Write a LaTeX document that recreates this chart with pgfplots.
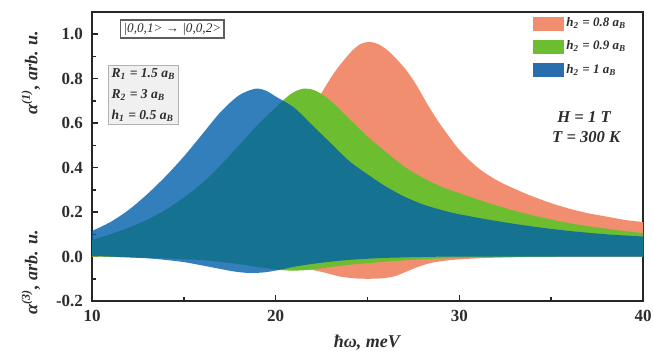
\documentclass[border=0pt]{standalone}
\usepackage{fontspec}
\setmainfont{Liberation Serif}
\usepackage{pgfplots}
\pgfplotsset{compat=1.18}
\usepgfplotslibrary{fillbetween}

\definecolor{salmonfill}{RGB}{242,142,112}
\definecolor{greenfill}{RGB}{108,190,48}
\definecolor{bluefill}{RGB}{0,95,170}
\definecolor{bluekey}{RGB}{40,110,175}
\definecolor{txt}{RGB}{45,45,45}
\definecolor{boxline}{RGB}{95,95,95}

\begin{document}
\begin{tikzpicture}
\begin{axis}[
  scale only axis, width=275.5pt, height=144.5pt,
  xmin=10, xmax=40, ymin=-0.2, ymax=1.1,
  xtick={10,20,30,40}, xticklabels={10,20,30,40},
  ytick={-0.2,0,0.2,0.4,0.6,0.8,1.0},
  yticklabels={-0.2,0.0,0.2,0.4,0.6,0.8,1.0},
  minor x tick num=1, minor y tick num=1,
  xtick pos=bottom, ytick pos=left, tick align=inside,
  major tick length=3pt, minor tick length=1.8pt,
  axis line style={line width=0.9pt, black!85},
  every tick/.style={line width=0.8pt, black!85},
  tick label style={font=\fontsize{8.5}{10}\selectfont\bfseries, text=txt},
  yticklabel style={xshift=-1pt},
  xticklabel style={yshift=-1pt},
  xlabel={\textbf{\textit{ħω, meV}}},
  every axis x label/.style={at={(axis description cs:0.5,-0.145)}, anchor=center,
    font=\fontsize{9}{10}\selectfont, text=txt},
  clip=false,
  curve/.style={draw=none, forget plot, smooth, tension=0.5},
  legend style={draw=none, fill=none, at={(axis description cs:0.80,0.99)},
    anchor=north west, inner sep=0pt, row sep=3.2pt,
    font=\fontsize{6.5}{7.5}\selectfont\bfseries\itshape, text=txt,
    nodes={inner sep=1.2pt}},
  legend cell align=left,
]

% alpha^(1) (upper) and alpha^(3) (lower) for h2 = 0.8 aB
\addplot[name path=su, curve] coordinates {
 (10,0.055) (12,0.08) (14,0.12) (16,0.18) (18,0.27) (19,0.34) (20,0.42)
 (21,0.52) (22,0.66) (22.6,0.75) (23.3,0.84) (24.1,0.92) (24.6,0.955)
 (25.1,0.965) (25.6,0.955) (26.2,0.92) (27,0.85) (27.6,0.78) (28.3,0.68)
 (29,0.59) (30,0.48) (31,0.40) (32,0.345) (33,0.305) (34,0.27) (35,0.24)
 (36,0.215) (37,0.195) (38,0.18) (39,0.165) (40,0.155)};
\addplot[name path=sl, curve] coordinates {
 (10,0) (12,-0.003) (14,-0.006) (16,-0.012) (18,-0.02) (20,-0.035)
 (21,-0.045) (22,-0.06) (22.8,-0.075) (23.5,-0.09) (24.3,-0.098) (25,-0.1)
 (25.8,-0.098) (26.5,-0.088) (27.2,-0.065) (27.8,-0.045) (28.5,-0.028)
 (29.5,-0.016) (31,-0.008) (33,-0.003) (35,-0.001) (40,0)};
\addplot[fill=salmonfill, draw=none, forget plot] fill between[of=su and sl];

% h2 = 0.9 aB
\addplot[name path=gu, curve] coordinates {
 (10,0.075) (11,0.10) (12,0.13) (13,0.165) (14,0.21) (15,0.265) (16,0.33)
 (17,0.41) (18,0.50) (19,0.59) (20,0.67) (20.8,0.73) (21.5,0.755)
 (22.2,0.745) (23,0.70) (24,0.62) (25,0.54) (26,0.47) (27,0.405)
 (28,0.355) (29,0.315) (30,0.285) (32,0.23) (34,0.185) (36,0.15)
 (38,0.125) (40,0.105)};
\addplot[name path=gl, curve] coordinates {
 (10,0) (12,-0.003) (14,-0.008) (16,-0.016) (17,-0.024) (18,-0.034)
 (19,-0.047) (20,-0.058) (20.7,-0.063) (21.5,-0.062) (22.3,-0.055)
 (23,-0.047) (24,-0.037) (25,-0.03) (26,-0.023) (27,-0.017) (28,-0.012)
 (30,-0.006) (32,-0.003) (35,-0.001) (40,0)};
\addplot[fill=greenfill, draw=none, forget plot] fill between[of=gu and gl];

% h2 = 1 aB
\addplot[name path=bu, curve] coordinates {
 (10,0.115) (11,0.155) (12,0.21) (13,0.28) (14,0.36) (15,0.45) (16,0.55)
 (17,0.65) (18,0.725) (18.9,0.755) (19.5,0.745) (20,0.72) (21,0.67)
 (22,0.59) (23,0.51) (24,0.43) (25,0.37) (26,0.315) (27,0.27) (28,0.235)
 (29,0.21) (30,0.19) (32,0.16) (34,0.135) (36,0.115) (38,0.10) (40,0.09)};
\addplot[name path=bl, curve] coordinates {
 (10,0.003) (11,0) (12,-0.004) (13,-0.008) (14,-0.015) (15,-0.025)
 (16,-0.04) (17,-0.056) (17.8,-0.068) (18.6,-0.074) (19.4,-0.071)
 (20.2,-0.06) (21,-0.046) (22,-0.033) (23,-0.023) (24,-0.015) (25,-0.01)
 (26,-0.006) (28,-0.002) (30,0) (35,0) (40,0)};
\addplot[fill=bluefill, fill opacity=0.8, draw=none, forget plot] fill between[of=bu and bl];

% legend swatches
\addlegendimage{legend image code/.code={\fill[salmonfill] (0pt,-3.3pt) rectangle (15pt,3.3pt);}}
\addlegendentry{h\textsubscript{2} = 0.8 a\textsubscript{B}}
\addlegendimage{legend image code/.code={\fill[greenfill] (0pt,-3.3pt) rectangle (15pt,3.3pt);}}
\addlegendentry{h\textsubscript{2} = 0.9 a\textsubscript{B}}
\addlegendimage{legend image code/.code={\fill[bluekey] (0pt,-3.3pt) rectangle (15pt,3.3pt);}}
\addlegendentry{h\textsubscript{2} = 1 a\textsubscript{B}}

% annotations
\node[draw=boxline, line width=0.8pt, inner sep=1.5pt, text=txt,
  font=\fontsize{6.6}{7.5}\selectfont\itshape]
  at (axis description cs:0.146,0.941) {|0,0,1> → |0,0,2>};
\node[draw=black!30, fill=black!6, line width=0.5pt, inner sep=1.5pt, text=txt,
  align=left, font=\fontsize{6.8}{10.5}\selectfont\bfseries\itshape]
  at (axis description cs:0.0935,0.713)
  {R\textsubscript{1} = 1.5 a\textsubscript{B}\\R\textsubscript{2} = 3 a\textsubscript{B}\\h\textsubscript{1} = 0.5 a\textsubscript{B}};
\node[text=txt, font=\fontsize{8.3}{10}\selectfont\bfseries\itshape]
  at (axis description cs:0.893,0.637) {H = 1 T};
\node[text=txt, font=\fontsize{8.3}{10}\selectfont\bfseries\itshape]
  at (axis description cs:0.897,0.567) {T = 300 K};

% two vertical axis titles
\node[rotate=90, text=txt, font=\fontsize{9}{10}\selectfont\bfseries\itshape]
  at (axis description cs:-0.111,0.79) {α\textsuperscript{(1)}, arb. u.};
\node[rotate=90, text=txt, font=\fontsize{9}{10}\selectfont\bfseries\itshape]
  at (axis description cs:-0.111,0.10) {α\textsuperscript{(3)}, arb. u.};

% picture frame
\coordinate (bbsw) at (axis description cs:-0.16697,-0.18339);
\coordinate (bbne) at (axis description cs:1.01815,1.04152);
\end{axis}
\pgfresetboundingbox
\path[use as bounding box] (bbsw) rectangle (bbne);
\end{tikzpicture}
\end{document}
